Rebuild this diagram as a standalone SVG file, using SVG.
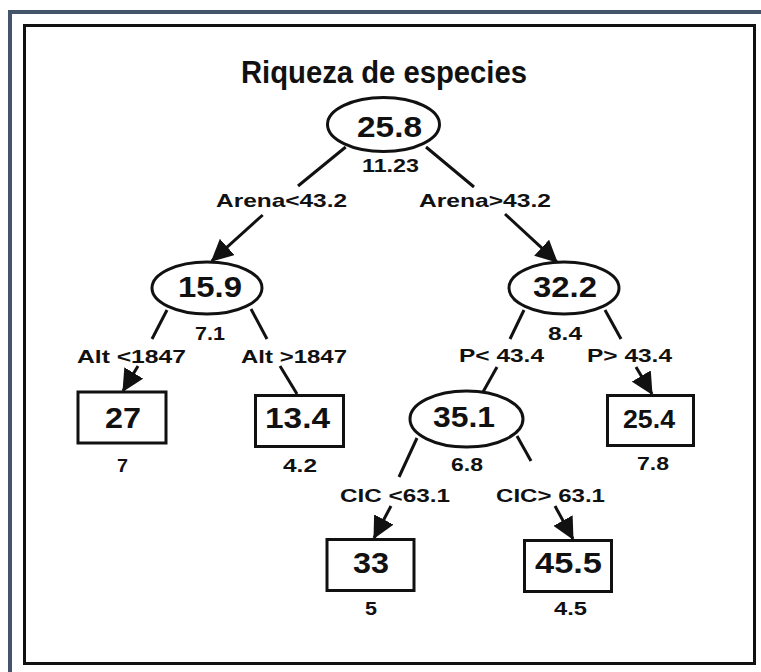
<svg xmlns="http://www.w3.org/2000/svg" width="761" height="672" viewBox="0 0 761 672">
<style>
text{font-family:"Liberation Sans",Arial,sans-serif;font-weight:bold;fill:#111}
.big{font-size:29px}
.sm{font-size:19px}
.lb{font-size:19px}
.node ellipse,.node rect{fill:#fff;stroke:#111;stroke-width:3}
#connectors line{stroke:#111;stroke-width:3}
</style>
<defs>
<marker id="ah" markerUnits="userSpaceOnUse" markerWidth="22" markerHeight="22" refX="20" refY="10.5" orient="auto" viewBox="0 0 21 21">
<path d="M0,0 L21,10.5 L0,21 z" fill="#111"/>
</marker>
</defs>
<rect width="761" height="672" fill="#fff"/>
<path d="M10,672 V12 H761" fill="none" stroke="#44546a" stroke-width="4"/>
<rect x="24.5" y="25.5" width="730" height="638" fill="none" stroke="#111" stroke-width="3"/>
<text x="384" y="83" text-anchor="middle" style="font-size:32px" textLength="286" lengthAdjust="spacingAndGlyphs">Riqueza de especies</text>

<g id="connectors">
<line x1="345.7" y1="147" x2="298" y2="186"/>
<line x1="262.7" y1="215" x2="211.7" y2="261" marker-end="url(#ah)"/>
<line x1="426" y1="147" x2="474" y2="187"/>
<line x1="505" y1="214" x2="557" y2="262" marker-end="url(#ah)"/>
<line x1="167" y1="310" x2="152" y2="339"/>
<line x1="138" y1="366" x2="123" y2="391" marker-end="url(#ah)"/>
<line x1="251" y1="309" x2="267" y2="339"/>
<line x1="280" y1="366" x2="297" y2="394"/>
<line x1="524" y1="310" x2="510" y2="339"/>
<line x1="497" y1="367" x2="483" y2="392"/>
<line x1="605" y1="310" x2="621" y2="339"/>
<line x1="636" y1="367" x2="652" y2="394" marker-end="url(#ah)"/>
<line x1="417" y1="438" x2="399" y2="477"/>
<line x1="391" y1="506" x2="374" y2="538" marker-end="url(#ah)"/>
<line x1="517" y1="436" x2="531" y2="461"/>
<line x1="555" y1="506" x2="573" y2="539" marker-end="url(#ah)"/>
<text class="lb" x="216" y="207" textLength="131" lengthAdjust="spacingAndGlyphs">Arena&lt;43.2</text>
<text class="lb" x="419" y="207" textLength="132" lengthAdjust="spacingAndGlyphs">Arena&gt;43.2</text>
<text class="lb" x="77" y="363" textLength="109" lengthAdjust="spacingAndGlyphs">Alt &lt;1847</text>
<text class="lb" x="241" y="363" textLength="106" lengthAdjust="spacingAndGlyphs">Alt &gt;1847</text>
<text class="lb" x="459" y="362" textLength="85" lengthAdjust="spacingAndGlyphs">P&lt; 43.4</text>
<text class="lb" x="587" y="362" textLength="85" lengthAdjust="spacingAndGlyphs">P&gt; 43.4</text>
<text class="lb" x="340" y="502" textLength="110" lengthAdjust="spacingAndGlyphs">CIC &lt;63.1</text>
<text class="lb" x="496" y="502" textLength="109" lengthAdjust="spacingAndGlyphs">CIC&gt; 63.1</text>
</g>

<g id="n-root" class="node">
<ellipse cx="383.5" cy="124.5" rx="56" ry="27"/>
<text class="big" x="357" y="137" textLength="65" lengthAdjust="spacingAndGlyphs">25.8</text>
<text class="sm" x="362" y="172" textLength="57" lengthAdjust="spacingAndGlyphs">11.23</text>
</g>
<g id="n-15-9" class="node">
<ellipse cx="207" cy="288" rx="55" ry="26"/>
<text class="big" x="178" y="297" textLength="64" lengthAdjust="spacingAndGlyphs">15.9</text>
<text class="sm" x="195" y="340" textLength="30" lengthAdjust="spacingAndGlyphs">7.1</text>
</g>
<g id="n-32-2" class="node">
<ellipse cx="564" cy="288" rx="55" ry="26"/>
<text class="big" x="533" y="297" textLength="64" lengthAdjust="spacingAndGlyphs">32.2</text>
<text class="sm" x="548" y="340" textLength="34" lengthAdjust="spacingAndGlyphs">8.4</text>
</g>
<g id="n-27" class="node">
<rect x="78" y="392" width="88" height="51"/>
<text class="big" x="105" y="428" textLength="36" lengthAdjust="spacingAndGlyphs">27</text>
<text class="sm" x="117" y="472" textLength="11" lengthAdjust="spacingAndGlyphs">7</text>
</g>
<g id="n-13-4" class="node">
<rect x="255.5" y="395.5" width="88" height="51"/>
<text class="big" x="265" y="428" textLength="65" lengthAdjust="spacingAndGlyphs">13.4</text>
<text class="sm" x="283" y="472" textLength="34" lengthAdjust="spacingAndGlyphs">4.2</text>
</g>
<g id="n-35-1" class="node">
<ellipse cx="466.5" cy="419" rx="56.5" ry="28"/>
<text class="big" x="433" y="427" textLength="62" lengthAdjust="spacingAndGlyphs">35.1</text>
<text class="sm" x="451" y="471" textLength="32" lengthAdjust="spacingAndGlyphs">6.8</text>
</g>
<g id="n-25-4" class="node">
<rect x="607.5" y="395.5" width="86" height="50"/>
<text class="big" x="623" y="428" textLength="52" lengthAdjust="spacingAndGlyphs" style="font-size:26px">25.4</text>
<text class="sm" x="637" y="470" textLength="32" lengthAdjust="spacingAndGlyphs">7.8</text>
</g>
<g id="n-33" class="node">
<rect x="327" y="539.5" width="87" height="51"/>
<text class="big" x="353" y="573" textLength="36" lengthAdjust="spacingAndGlyphs">33</text>
<text class="sm" x="365" y="615" textLength="12" lengthAdjust="spacingAndGlyphs">5</text>
</g>
<g id="n-45-5" class="node">
<rect x="524.5" y="540.5" width="87" height="51"/>
<text class="big" x="535" y="573" textLength="67" lengthAdjust="spacingAndGlyphs">45.5</text>
<text class="sm" x="554" y="615" textLength="33" lengthAdjust="spacingAndGlyphs">4.5</text>
</g>
</svg>
